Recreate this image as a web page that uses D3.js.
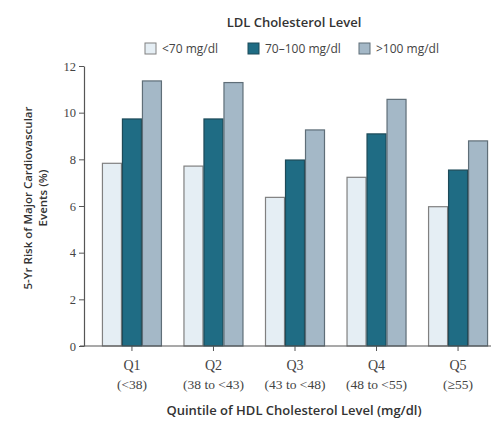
<!DOCTYPE html>
<html><head><meta charset="utf-8">
<script src="https://cdn.jsdelivr.net/npm/d3@7"></script>
<style>body{margin:0;background:#fff}svg{display:block}</style>
</head><body>
<script>
const categories = ["Q1","Q2","Q3","Q4","Q5"];
const subLabels = ["(<38)","(38 to <43)","(43 to <48)","(48 to <55)","(\u226555)"];
const seriesNames = ["<70 mg/dl","70\u2013100 mg/dl",">100 mg/dl"];
const ldlLow = [7.83, 7.71, 6.37, 7.23, 5.97];
const ldlMid = [9.73, 9.73, 7.97, 9.09, 7.54];
const ldlHigh = [11.36, 11.29, 9.26, 10.57, 8.79];
const yTicks = [0,2,4,6,8,10,12];

const W = 491, H = 431;
const fills = ["#e5eef4","#1f6c84","#a4b8c7"];
const strokes = ["#808080","#1d4a58","#5f6e78"];
const series = [ldlLow, ldlMid, ldlHigh];
const sans = "Open Sans, sans-serif", serif = "Liberation Serif, serif";

const svg = d3.select("body").append("svg").attr("width",W).attr("height",H);
const x0 = 84, yBase = 346;
const x = d3.scaleBand().domain(categories).range([x0, 506]).paddingInner(0.264).paddingOuter(0.22);
const xs = d3.scaleBand().domain([0,1,2]).range([0, x.bandwidth()]);
const y = d3.scaleLinear().domain([0,12]).range([yBase, 66]);

// bars
const g = svg.append("g");
categories.forEach((c,i)=>{
  series.forEach((s,j)=>{
    g.append("rect")
      .attr("x", x(c)+xs(j)+0.5)
      .attr("y", y(s[i]))
      .attr("width", xs.bandwidth()-1)
      .attr("height", yBase - y(s[i]))
      .attr("fill", fills[j]).attr("stroke", strokes[j]).attr("stroke-width",1.2);
  });
});

// y axis
const ya = svg.append("g").attr("transform",`translate(${x0},0)`)
  .call(d3.axisLeft(y).tickValues(yTicks).tickSize(5).tickSizeOuter(0));
ya.select(".domain").attr("stroke","#555").attr("stroke-width",1.2);
ya.selectAll(".tick line").attr("stroke","#555");
ya.selectAll(".tick text").attr("font-family",serif).attr("font-size",12.5).attr("fill","#444").attr("x",-8);

// x axis
const xa = svg.append("g").attr("transform",`translate(0,${yBase})`)
  .call(d3.axisBottom(x).tickSize(5).tickSizeOuter(0).tickFormat(""));
xa.select(".domain").remove();
xa.selectAll(".tick line").attr("stroke","#555");
svg.append("line").attr("x1",x0-4).attr("x2",W).attr("y1",yBase).attr("y2",yBase).attr("stroke","#555").attr("stroke-width",1.2);
xa.selectAll(".tick").each(function(d,i){
  const t = d3.select(this);
  t.append("text").attr("y",24).attr("text-anchor","middle").attr("font-family",serif).attr("font-size",14).attr("fill","#444").text(d);
  t.append("text").attr("y",43).attr("text-anchor","middle").attr("font-family",serif).attr("font-size",13.5).attr("fill","#444").text(subLabels[i]);
});

// axis titles
svg.append("text").attr("x",294).attr("y",415).attr("text-anchor","middle")
  .attr("font-family",sans).attr("font-size",13).attr("font-weight",600).attr("fill","#333")
  .text("Quintile of HDL Cholesterol Level (mg/dl)");
const yt = svg.append("text").attr("transform","translate(32,198) rotate(-90)").attr("text-anchor","middle")
  .attr("font-family",sans).attr("font-size",11.5).attr("font-weight",600).attr("fill","#333");
yt.append("tspan").attr("x",0).attr("dy",0).text("5-Yr Risk of Major Cardiovascular");
yt.append("tspan").attr("x",0).attr("dy",15).text("Events (%)");

// legend
svg.append("text").attr("x",294).attr("y",27).attr("text-anchor","middle")
  .attr("font-family",sans).attr("font-size",13).attr("font-weight",600).attr("fill","#333")
  .text("LDL Cholesterol Level");
const legX = [145, 248, 359];
seriesNames.forEach((n,j)=>{
  svg.append("rect").attr("x",legX[j]).attr("y",43).attr("width",11).attr("height",11)
    .attr("fill",fills[j]).attr("stroke",strokes[j]).attr("stroke-width",1);
  svg.append("text").attr("x",legX[j]+17).attr("y",53).attr("font-family",sans)
    .attr("font-size",12).attr("fill","#444").text(n);
});
</script>
</body></html>
